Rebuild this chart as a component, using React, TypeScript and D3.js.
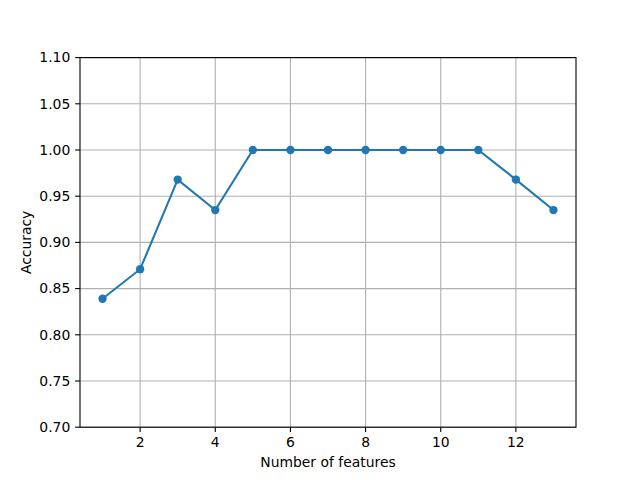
import { useEffect } from "react";
import * as d3 from "d3";

const features = [1, 2, 3, 4, 5, 6, 7, 8, 9, 10, 11, 12, 13];
const accuracy = [0.839, 0.871, 0.968, 0.935, 1.0, 1.0, 1.0, 1.0, 1.0, 1.0, 1.0, 0.968, 0.935];
const xTicks = [2, 4, 6, 8, 10, 12];
const yTicks = [0.7, 0.75, 0.8, 0.85, 0.9, 0.95, 1.0, 1.05, 1.1];

const W = 640;
const H = 480;
const m = { left: 80, right: 64, top: 57.6, bottom: 52.8 };
const FONT = "DejaVu Sans, sans-serif";

export default function App() {
  useEffect(() => {
    document.body.style.margin = "0";
  }, []);

  const x = d3.scaleLinear().domain([0.4, 13.6]).range([m.left, W - m.right]);
  const y = d3.scaleLinear().domain([0.7, 1.1]).range([H - m.bottom, m.top]);

  const line = d3
    .line<number>()
    .x((_, i) => x(features[i]))
    .y((d) => y(d));

  const x0 = x.range()[0];
  const x1 = x.range()[1];
  const y0 = y.range()[0];
  const y1 = y.range()[1];

  return (
    <svg width={W} height={H} style={{ display: "block", background: "#fff" }}>
      {/* grid */}
      {xTicks.map((t) => (
        <line key={"gx" + t} x1={x(t)} x2={x(t)} y1={y0} y2={y1} stroke="#b0b0b0" strokeWidth={1.1} />
      ))}
      {yTicks.map((t) => (
        <line key={"gy" + t} x1={x0} x2={x1} y1={y(t)} y2={y(t)} stroke="#b0b0b0" strokeWidth={1.1} />
      ))}

      {/* data */}
      <path d={line(accuracy) ?? ""} fill="none" stroke="#1f77b4" strokeWidth={2.08} />
      {accuracy.map((d, i) => (
        <circle key={i} cx={x(features[i])} cy={y(d)} r={4.17} fill="#1f77b4" />
      ))}

      {/* spines */}
      <rect x={x0} y={y1} width={x1 - x0} height={y0 - y1} fill="none" stroke="#000" strokeWidth={1.1} />

      {/* x ticks */}
      {xTicks.map((t) => (
        <g key={"xt" + t}>
          <line x1={x(t)} x2={x(t)} y1={y0} y2={y0 + 4.86} stroke="#000" strokeWidth={1.1} />
          <text x={x(t)} y={y0 + 20} textAnchor="middle" fontFamily={FONT} fontSize={13.9} fill="#000">
            {t}
          </text>
        </g>
      ))}

      {/* y ticks */}
      {yTicks.map((t) => (
        <g key={"yt" + t}>
          <line x1={x0 - 4.86} x2={x0} y1={y(t)} y2={y(t)} stroke="#000" strokeWidth={1.1} />
          <text x={x0 - 9.7} y={y(t)} dy="0.35em" textAnchor="end" fontFamily={FONT} fontSize={13.9} fill="#000">
            {d3.format(".2f")(t)}
          </text>
        </g>
      ))}

      {/* axis labels */}
      <text x={(x0 + x1) / 2} y={467} textAnchor="middle" fontFamily={FONT} fontSize={13.9} fill="#000">
        Number of features
      </text>
      <text
        transform={`translate(31,${(y0 + y1) / 2}) rotate(-90)`}
        textAnchor="middle"
        fontFamily={FONT}
        fontSize={13.9}
        fill="#000"
      >
        Accuracy
      </text>
    </svg>
  );
}
